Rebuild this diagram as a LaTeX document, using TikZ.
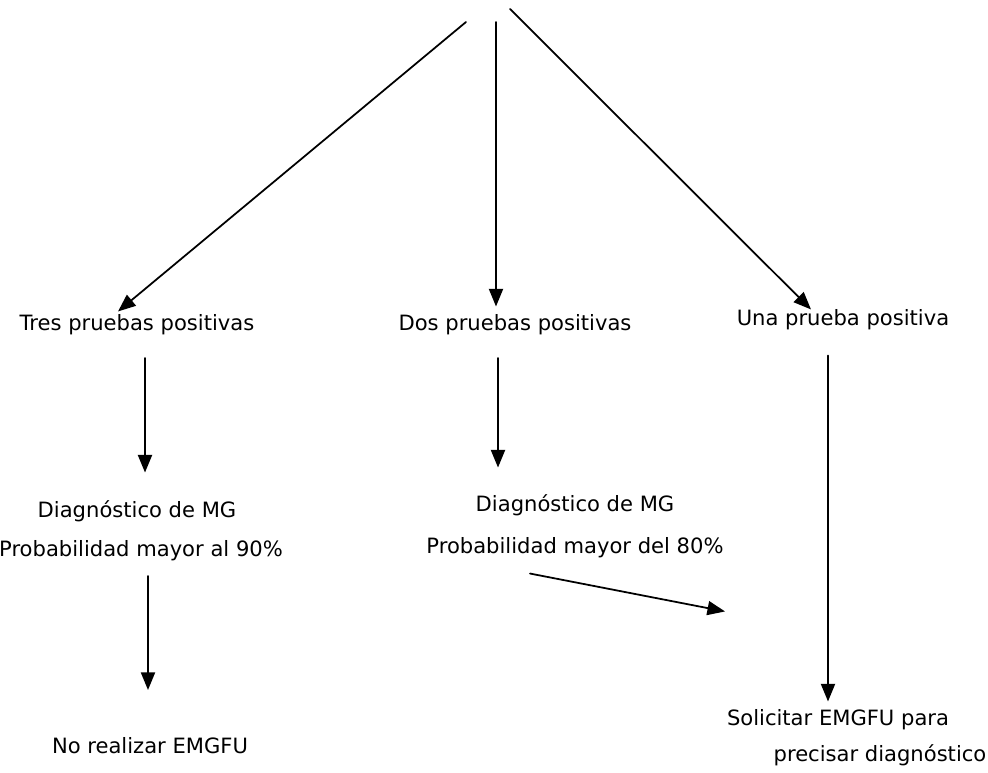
\documentclass[tikz,border=0pt]{standalone}
\usepackage{fontspec}
\setmainfont{DejaVu Sans}
\usetikzlibrary{arrows.meta}
\begin{document}
\begin{tikzpicture}[line cap=round,line join=round,>={Triangle[length=10pt,width=8pt]},x=0.02cm,y=-0.02cm]
\useasboundingbox (0,0) rectangle (988,773);
\tikzset{txt/.style={font=\fontsize{12}{14}\selectfont,inner sep=0pt}}
\tikzset{flecha/.style={->,line width=1pt}}
% puntos de arriba
\coordinate (t1) at (466,22);
\coordinate (t2) at (496,22);
\coordinate (t3) at (510,9);
% textos
\node[txt] (tres) at (137,325) {Tres pruebas positivas};
\node[txt] (dos) at (515,325) {Dos pruebas positivas};
\node[txt] (una) at (843,320) {Una prueba positiva};
\node[txt] (diag1) at (137,511) {Diagnóstico de MG};
\node[txt] (prob1) at (141,551) {Probabilidad mayor al 90\%};
\node[txt] (diag2) at (575,505) {Diagnóstico de MG};
\node[txt] (prob2) at (575,548) {Probabilidad mayor del 80\%};
\node[txt] (no) at (150,746) {No realizar EMGFU};
\node[txt] (sol) at (838,720) {Solicitar EMGFU para};
\node[txt] (prec) at (880,755) {precisar diagnóstico};
% flechas
\draw[flecha] (t1) -- ([xshift=-0.38cm,yshift=0.06cm]tres.north);
\draw[flecha] (t2) -- ([yshift=0.16cm]dos.north -| t2);
\draw[flecha] (t3) -- ([xshift=-0.64cm,yshift=0cm]una.north);
\draw[flecha] ([yshift=-0.45cm]tres.south -| 145,0) -- ([yshift=0.55cm]diag1.north -| 145,0);
\draw[flecha] ([yshift=-0.45cm]dos.south -| 498,0) -- ([yshift=0.53cm]diag2.north -| 498,0);
\draw[flecha] ([yshift=-0.5cm]una.south -| 828,0) -- ([yshift=0.16cm]sol.north -| 828,0);
\draw[flecha] ([yshift=-0.29cm]prob1.south -| 148,0) -- ([yshift=0.95cm]no.north -| 148,0);
\draw[flecha] ([xshift=-0.9cm,yshift=-0.3cm]prob2.south) -- ([xshift=-2.26cm,yshift=1.96cm]sol.north);
\end{tikzpicture}
\end{document}
